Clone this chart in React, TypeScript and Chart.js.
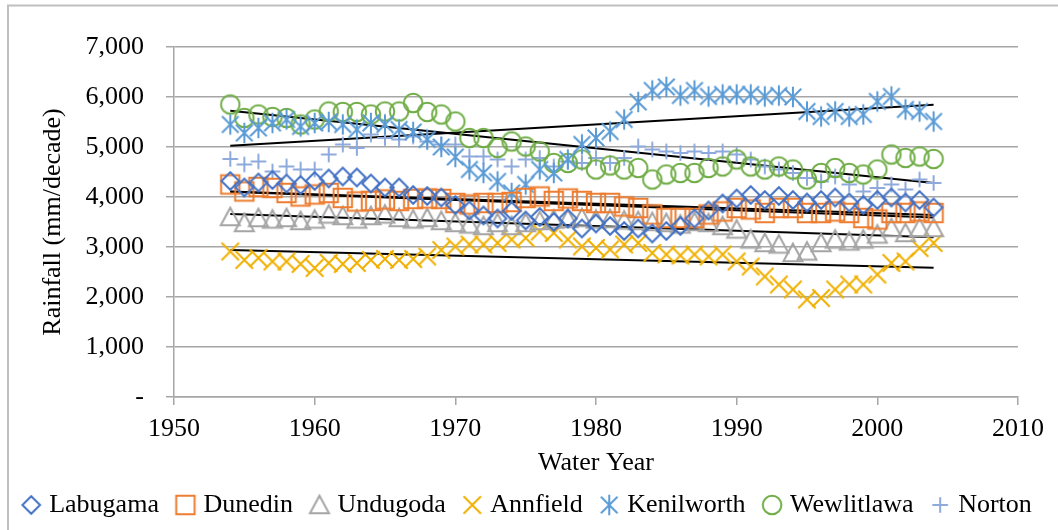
import React, { useEffect, useRef } from 'react';
import { Chart, registerables } from 'chart.js';

Chart.register(...registerables);

const years = [1954, 1955, 1956, 1957, 1958, 1959, 1960, 1961, 1962, 1963, 1964, 1965, 1966, 1967, 1968, 1969, 1970, 1971, 1972, 1973, 1974, 1975, 1976, 1977, 1978, 1979, 1980, 1981, 1982, 1983, 1984, 1985, 1986, 1987, 1988, 1989, 1990, 1991, 1992, 1993, 1994, 1995, 1996, 1997, 1998, 1999, 2000, 2001, 2002, 2003, 2004];

const labugama = [4320, 4190, 4290, 4340, 4270, 4240, 4320, 4370, 4410, 4390, 4270, 4190, 4190, 4040, 4020, 3990, 3840, 3730, 3630, 3570, 3720, 3530, 3600, 3500, 3570, 3370, 3470, 3420, 3320, 3370, 3270, 3320, 3420, 3570, 3730, 3870, 3970, 4040, 3940, 4020, 3940, 3890, 3940, 3990, 3890, 3840, 3940, 3990, 3890, 3940, 3790];
const dunedin = [4250, 4110, 4200, 4180, 4080, 4010, 4050, 4080, 3980, 3910, 3920, 3950, 3920, 3960, 3970, 3960, 3880, 3850, 3880, 3880, 3900, 3980, 4010, 3920, 3970, 3920, 3880, 3880, 3810, 3780, 3650, 3580, 3580, 3580, 3650, 3710, 3780, 3750, 3680, 3780, 3780, 3680, 3680, 3710, 3680, 3580, 3550, 3680, 3680, 3710, 3680];
const undugoda = [3600, 3480, 3580, 3550, 3580, 3520, 3550, 3650, 3620, 3550, 3620, 3650, 3580, 3550, 3580, 3520, 3480, 3450, 3420, 3480, 3420, 3480, 3520, 3550, 3560, 3580, 3550, 3560, 3530, 3520, 3500, 3480, 3450, 3500, 3480, 3420, 3350, 3150, 3080, 3050, 2880, 2910, 3080, 3150, 3110, 3150, 3250, 3380, 3280, 3380, 3380];
const annfield = [2910, 2740, 2780, 2710, 2710, 2660, 2580, 2680, 2660, 2680, 2740, 2760, 2740, 2760, 2810, 2940, 3010, 3050, 3050, 3080, 3150, 3180, 3310, 3280, 3150, 3010, 2980, 2950, 3050, 3080, 2880, 2850, 2830, 2850, 2810, 2850, 2710, 2610, 2410, 2250, 2150, 1950, 1980, 2150, 2250, 2250, 2450, 2680, 2710, 2980, 3080];
const kenilworth = [5450, 5280, 5380, 5480, 5550, 5410, 5480, 5500, 5450, 5350, 5480, 5450, 5350, 5300, 5150, 5000, 4800, 4550, 4480, 4310, 4080, 4250, 4550, 4480, 4750, 5050, 5180, 5310, 5550, 5900, 6130, 6200, 6030, 6130, 6010, 6050, 6050, 6050, 6010, 6030, 6000, 5710, 5610, 5710, 5610, 5650, 5910, 6010, 5750, 5710, 5510];
const wewlitlawa = [5850, 5580, 5650, 5600, 5580, 5450, 5550, 5710, 5700, 5700, 5650, 5710, 5710, 5880, 5700, 5650, 5510, 5180, 5180, 4980, 5110, 5010, 4910, 4680, 4680, 4750, 4550, 4630, 4550, 4580, 4350, 4450, 4480, 4480, 4580, 4610, 4750, 4610, 4550, 4610, 4550, 4350, 4480, 4580, 4480, 4450, 4550, 4850, 4780, 4810, 4760];
const norton = [4760, 4650, 4710, 4510, 4610, 4550, 4550, 4850, 5050, 4980, 5250, 5180, 5150, 5210, 5110, 5050, 5050, 4810, 4810, 4750, 4610, 4750, 4780, 4610, 4710, 4680, 4780, 4680, 4780, 5010, 4950, 4910, 4880, 4910, 4880, 4910, 4850, 4750, 4610, 4550, 4480, 4380, 4310, 4410, 4250, 4110, 4180, 4250, 4150, 4350, 4280];

const seriesNames = ['Labugama', 'Dunedin', 'Undugoda', 'Annfield', 'Kenilworth', 'Wewlitlawa', 'Norton'];
const seriesValues = [labugama, dunedin, undugoda, annfield, kenilworth, wewlitlawa, norton];
const seriesColors = ['#4472C4', '#ED7D31', '#A5A5A5', '#F0B000', '#5B9BD5', '#70AD47', '#8EA9DB'];
const seriesMarkers = ['diamond', 'square', 'triangle', 'x', 'star', 'circle', 'plus'];
const trendSeries = ['Labugama', 'Dunedin', 'Undugoda', 'Annfield', 'Kenilworth', 'Wewlitlawa'];

const xTicks = [1950, 1960, 1970, 1980, 1990, 2000, 2010];
const yTicks = [0, 1000, 2000, 3000, 4000, 5000, 6000, 7000];

function makeMarker(kind: string, color: string): HTMLCanvasElement {
  const c = document.createElement('canvas');
  c.width = 26;
  c.height = 26;
  const g = c.getContext('2d')!;
  g.strokeStyle = color;
  g.lineWidth = 2;
  const m = 13;
  g.beginPath();
  if (kind === 'diamond') {
    const r = 8.8;
    g.moveTo(m, m - r); g.lineTo(m + r, m); g.lineTo(m, m + r); g.lineTo(m - r, m); g.closePath();
  } else if (kind === 'square') {
    g.rect(m - 9.2, m - 9.2, 18.4, 18.4);
  } else if (kind === 'triangle') {
    g.moveTo(m, m - 9.3); g.lineTo(m + 9.5, m + 8.2); g.lineTo(m - 9.5, m + 8.2); g.closePath();
  } else if (kind === 'x') {
    const h = 8.7;
    g.moveTo(m - h, m - h); g.lineTo(m + h, m + h); g.moveTo(m + h, m - h); g.lineTo(m - h, m + h);
  } else if (kind === 'star') {
    const h = 8.3;
    g.moveTo(m - h, m - h); g.lineTo(m + h, m + h); g.moveTo(m + h, m - h); g.lineTo(m - h, m + h);
    g.moveTo(m, m - 10.3); g.lineTo(m, m + 10.3);
  } else if (kind === 'circle') {
    g.arc(m, m, 9.3, 0, Math.PI * 2);
  } else if (kind === 'plus') {
    const h = 7.8;
    g.moveTo(m - h, m); g.lineTo(m + h, m); g.moveTo(m, m - h); g.lineTo(m, m + h);
  }
  g.stroke();
  return c;
}

function fitLine(xs: number[], ys: number[]) {
  const n = xs.length;
  const mx = xs.reduce((a, b) => a + b, 0) / n;
  const my = ys.reduce((a, b) => a + b, 0) / n;
  let sxy = 0;
  let sxx = 0;
  for (let i = 0; i < n; i++) {
    sxy += (xs[i] - mx) * (ys[i] - my);
    sxx += (xs[i] - mx) * (xs[i] - mx);
  }
  const slope = sxy / sxx;
  return (x: number) => my + slope * (x - mx);
}

export default function App() {
  const ref = useRef<HTMLCanvasElement>(null);

  useEffect(() => {
    document.body.style.margin = '0';
    const family = "'Liberation Serif', 'Times New Roman', serif";
    const gridColor = '#a6a6a6';

    const scatterSets = seriesNames.map((name, i) => ({
      label: name,
      data: years.map((yr, j) => ({ x: yr, y: seriesValues[i][j] })),
      pointStyle: makeMarker(seriesMarkers[i], seriesColors[i]) as any,
      pointRadius: 9,
      borderColor: seriesColors[i],
      backgroundColor: 'transparent',
      showLine: false,
    }));

    const trendSets = trendSeries.map((name) => {
      const idx = seriesNames.indexOf(name);
      const f = fitLine(years, seriesValues[idx]);
      const x0 = years[0];
      const x1 = years[years.length - 1];
      return {
        label: name + ' trend',
        data: [{ x: x0, y: f(x0) }, { x: x1, y: f(x1) }],
        showLine: true,
        borderColor: '#000000',
        borderWidth: 2,
        pointRadius: 0,
        backgroundColor: '#000000',
      };
    });

    const borderPlugin = {
      id: 'outerBorder',
      beforeDraw(chart: any) {
        const ctx = chart.ctx;
        ctx.save();
        ctx.strokeStyle = '#bfbfbf';
        ctx.lineWidth = 2;
        ctx.strokeRect(8, 5.5, 1200, 700);
        ctx.restore();
      },
    };

    const chart = new Chart(ref.current!, {
      type: 'scatter',
      data: { datasets: [...scatterSets, ...trendSets] as any },
      options: {
        responsive: false,
        devicePixelRatio: 1,
        animation: false,
        events: [],
        layout: { padding: { top: 47, left: 0, right: 0, bottom: 2 } },
        plugins: {
          tooltip: { enabled: false },
          legend: {
            position: 'bottom',
            align: 'center',
            labels: {
              usePointStyle: true,
              boxWidth: 10,
              padding: 21.5,
              color: '#000000',
              font: { family, size: 26 },
              filter: (item: any) => item.datasetIndex < seriesNames.length,
            },
          },
        },
        scales: {
          x: {
            type: 'linear',
            min: xTicks[0],
            max: xTicks[xTicks.length - 1],
            afterBuildTicks: (axis: any) => {
              axis.ticks = xTicks.map((v) => ({ value: v }));
            },
            afterFit: (axis: any) => {
              axis.height = 73.5;
              axis.paddingRight = 40;
            },
            ticks: {
              color: '#000000',
              font: { family, size: 26 },
              padding: 9,
              maxRotation: 0,
              callback: (v: any) => String(v),
            },
            grid: { drawOnChartArea: false, drawTicks: true, tickLength: 8, color: gridColor, lineWidth: 1.5 },
            border: { display: true, color: gridColor, width: 1.5 },
            title: {
              display: true,
              text: 'Water Year',
              color: '#000000',
              font: { family, size: 26, lineHeight: 1 },
              padding: { top: 0, bottom: -6 },
            },
          },
          y: {
            type: 'linear',
            min: yTicks[0],
            max: yTicks[yTicks.length - 1],
            afterBuildTicks: (axis: any) => {
              axis.ticks = yTicks.map((v) => ({ value: v }));
            },
            afterFit: (axis: any) => {
              axis.width = 174;
            },
            ticks: {
              color: '#000000',
              font: { family, size: 26 },
              padding: 22,
              callback: (v: any) => (v === 0 ? '-' : Number(v).toLocaleString('en-US')),
            },
            grid: { drawTicks: true, tickLength: 8, color: gridColor, lineWidth: 1.5 },
            border: { display: true, color: gridColor, width: 1.5 },
            title: {
              display: true,
              text: 'Rainfall (mm/decade)',
              color: '#000000',
              font: { family, size: 26 },
              padding: { top: 38, bottom: 0 },
            },
          },
        },
      },
      plugins: [borderPlugin],
    });
    return () => chart.destroy();
  }, []);

  return (
    <div style={{ width: 1058, height: 530, position: 'relative', background: '#ffffff' }}>
      <canvas ref={ref} width={1058} height={530} style={{ display: 'block' }} />
    </div>
  );
}
